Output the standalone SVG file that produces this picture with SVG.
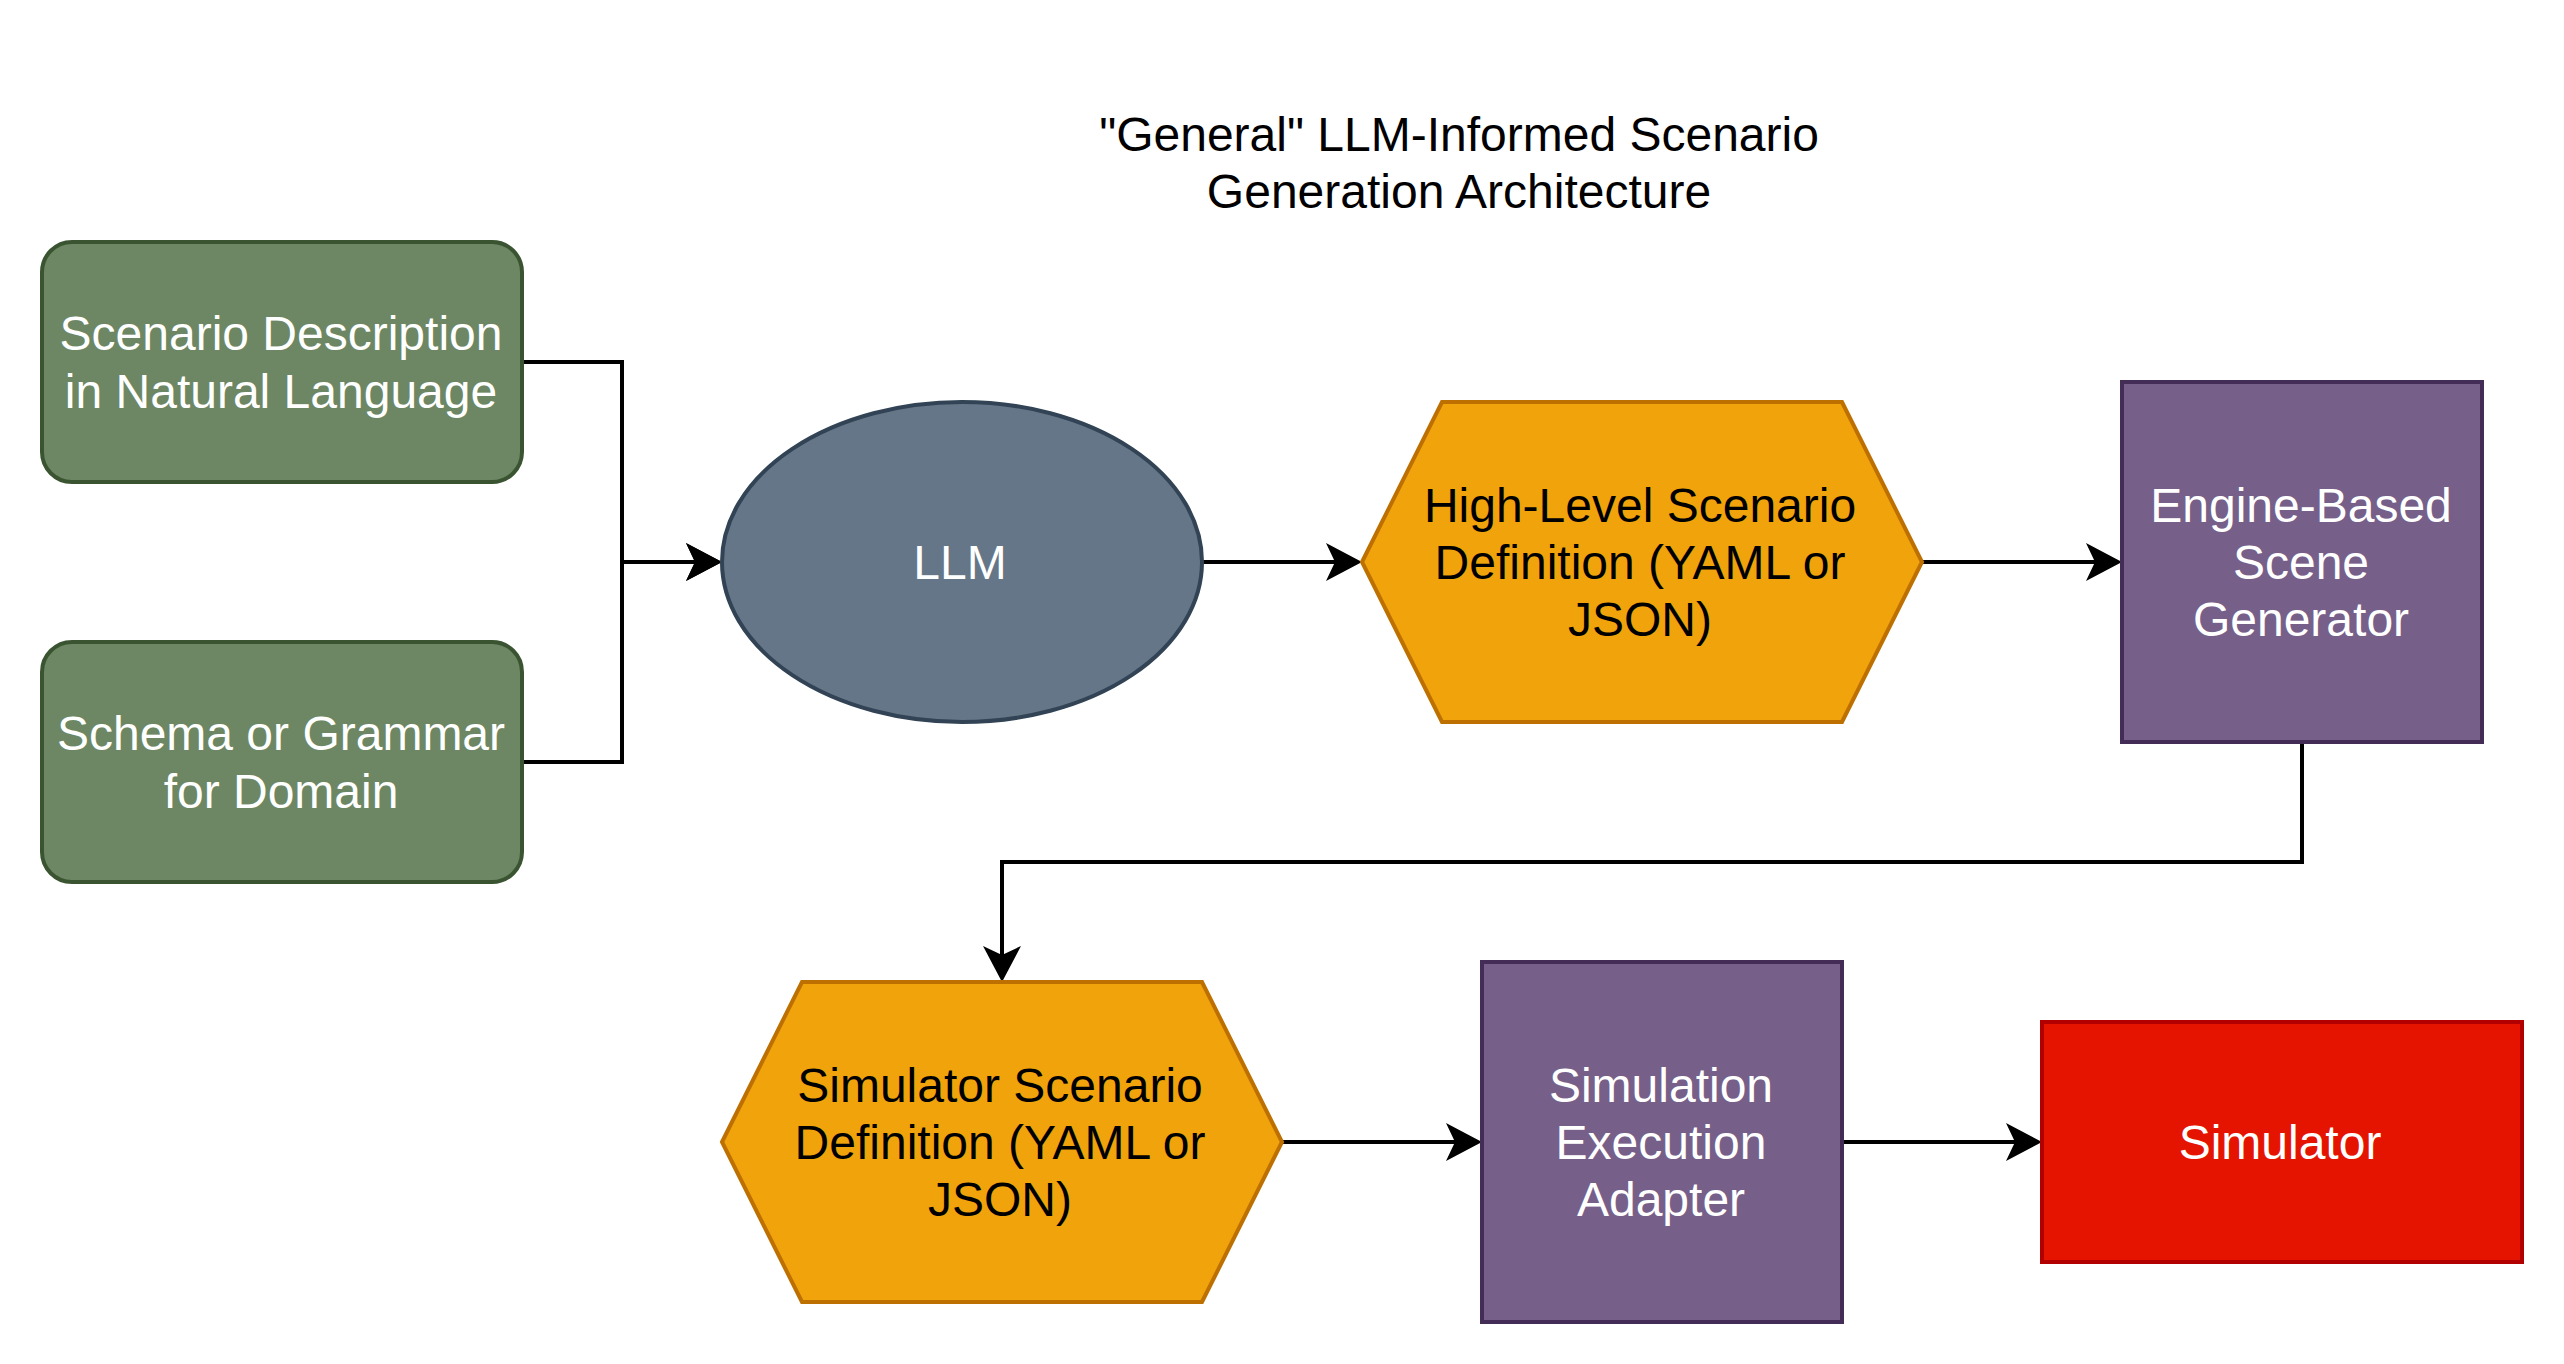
<svg xmlns="http://www.w3.org/2000/svg" width="2564" height="1364" viewBox="0 0 2564 1364">
<style>
text{font-family:"Liberation Sans",Arial,Helvetica,sans-serif;font-size:48px;text-anchor:middle}
.w{fill:#ffffff}
.k{fill:#000000}
.green{fill:#6D8764;stroke:#3A5431;stroke-width:4}
.slate{fill:#647687;stroke:#314354;stroke-width:4}
.orange{fill:#F0A30A;stroke:#BD7000;stroke-width:4}
.purple{fill:#76608A;stroke:#432D57;stroke-width:4}
.red{fill:#E51400;stroke:#B20000;stroke-width:4}
.edge{fill:none;stroke:#000000;stroke-width:4;marker-end:url(#arrow)}
</style>
<defs>
<marker id="arrow" markerUnits="userSpaceOnUse" markerWidth="40" markerHeight="40" refX="9" refY="19" orient="auto" overflow="visible">
<path d="M0,0 L36,19 L0,38 L9,19 Z" fill="#000000"/>
</marker>
</defs>
<rect width="2564" height="1364" fill="#ffffff"/>
<g id="title">
<text class="k" x="1459" y="151">"General" LLM-Informed Scenario</text>
<text class="k" x="1459" y="208">Generation Architecture</text>
</g>
<g id="connectors">
<path class="edge" d="M522,362 H622 V562 H695"/>
<path class="edge" d="M522,762 H622 V562 H695"/>
<path class="edge" d="M1202,562 H1335"/>
<path class="edge" d="M1922,562 H2095"/>
<path class="edge" d="M2302,742 V862 H1002 V955"/>
<path class="edge" d="M1282,1142 H1455"/>
<path class="edge" d="M1842,1142 H2015"/>
</g>
<g id="scenario-description">
<rect class="green" x="42" y="242" width="480" height="240" rx="30"/>
<text class="w" x="281" y="350">Scenario Description</text>
<text class="w" x="281" y="408">in Natural Language</text>
</g>
<g id="schema-grammar">
<rect class="green" x="42" y="642" width="480" height="240" rx="30"/>
<text class="w" x="281" y="750">Schema or Grammar</text>
<text class="w" x="281" y="808">for Domain</text>
</g>
<g id="llm">
<ellipse class="slate" cx="962" cy="562" rx="240" ry="160"/>
<text class="w" x="960" y="579">LLM</text>
</g>
<g id="high-level-definition">
<polygon class="orange" points="1362,562 1442,402 1842,402 1922,562 1842,722 1442,722"/>
<text class="k" x="1640" y="522">High-Level Scenario</text>
<text class="k" x="1640" y="579">Definition (YAML or</text>
<text class="k" x="1640" y="636">JSON)</text>
</g>
<g id="engine-scene-generator">
<rect class="purple" x="2122" y="382" width="360" height="360"/>
<text class="w" x="2301" y="522">Engine-Based</text>
<text class="w" x="2301" y="579">Scene</text>
<text class="w" x="2301" y="636">Generator</text>
</g>
<g id="simulator-definition">
<polygon class="orange" points="722,1142 802,982 1202,982 1282,1142 1202,1302 802,1302"/>
<text class="k" x="1000" y="1102">Simulator Scenario</text>
<text class="k" x="1000" y="1159">Definition (YAML or</text>
<text class="k" x="1000" y="1216">JSON)</text>
</g>
<g id="execution-adapter">
<rect class="purple" x="1482" y="962" width="360" height="360"/>
<text class="w" x="1661" y="1102">Simulation</text>
<text class="w" x="1661" y="1159">Execution</text>
<text class="w" x="1661" y="1216">Adapter</text>
</g>
<g id="simulator">
<rect class="red" x="2042" y="1022" width="480" height="240"/>
<text class="w" x="2280" y="1159">Simulator</text>
</g>
</svg>
